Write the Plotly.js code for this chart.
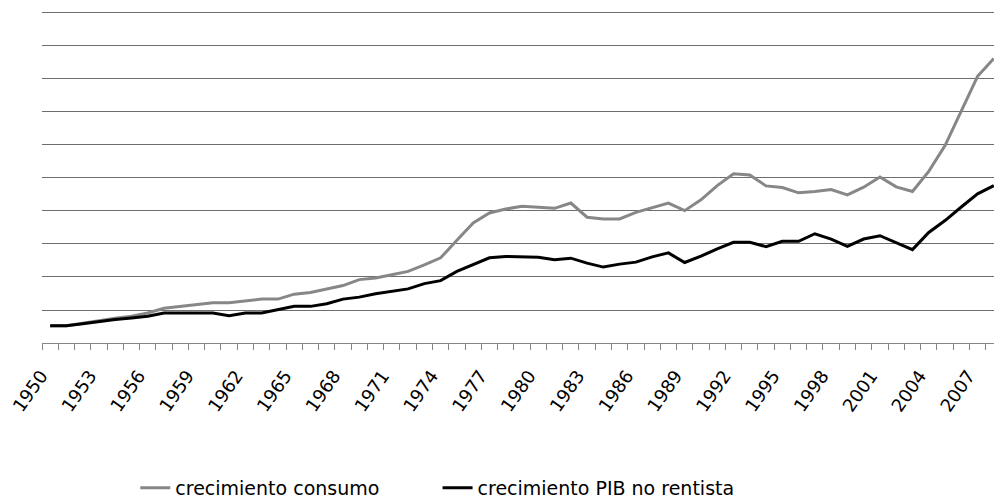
<!DOCTYPE html>
<html>
<head>
<meta charset="utf-8">
<script src="https://cdn.plot.ly/plotly-3.0.1.min.js"></script>
<style>
  html, body { margin: 0; padding: 0; background: #ffffff; }
  #chart { width: 994px; height: 499px; }
</style>
</head>
<body>
<div id="chart"></div>
<script>
// Years (categories)
const years = [1950,1951,1952,1953,1954,1955,1956,1957,1958,1959,
               1960,1961,1962,1963,1964,1965,1966,1967,1968,1969,
               1970,1971,1972,1973,1974,1975,1976,1977,1978,1979,
               1980,1981,1982,1983,1984,1985,1986,1987,1988,1989,
               1990,1991,1992,1993,1994,1995,1996,1997,1998,1999,
               2000,2001,2002,2003,2004,2005,2006,2007,2008];

// crecimiento consumo (gray)
const consumo = [0.52,0.52,0.60,0.68,0.75,0.81,0.91,1.05,1.11,1.17,
                 1.22,1.22,1.27,1.33,1.33,1.48,1.53,1.64,1.74,1.92,
                 1.97,2.07,2.17,2.37,2.58,3.11,3.64,3.94,4.06,4.14,
                 4.10,4.08,4.24,3.81,3.76,3.76,3.96,4.09,4.24,4.01,
                 4.34,4.77,5.13,5.09,4.76,4.71,4.55,4.59,4.65,4.49,
                 4.72,5.03,4.73,4.59,5.20,5.98,7.02,8.08,8.62];

// crecimiento PIB no rentista (black)
const pibNoRentista = [0.52,0.52,0.58,0.65,0.71,0.76,0.81,0.91,0.91,0.91,
                       0.91,0.83,0.91,0.91,1.01,1.11,1.11,1.19,1.33,1.39,
                       1.49,1.56,1.64,1.80,1.89,2.17,2.37,2.58,2.62,2.62,
                       2.60,2.52,2.57,2.42,2.30,2.39,2.45,2.61,2.73,2.44,
                       2.63,2.85,3.05,3.05,2.92,3.08,3.08,3.31,3.15,2.93,
                       3.15,3.25,3.03,2.83,3.35,3.71,4.12,4.52,4.77];

// Tick labels every 3 years
const tickYears = years.filter((y, i) => i % 3 === 0);
const tickLabels = tickYears.map(String);

const seriesNames = ['crecimiento consumo', 'crecimiento PIB no rentista'];

const FONT = 'DejaVu Sans, Liberation Sans, Arial, sans-serif';

const traces = [
  {
    x: years, y: consumo, type: 'scatter', mode: 'lines',
    name: seriesNames[0], legend: 'legend',
    line: { color: '#878787', width: 3 }
  },
  {
    x: years, y: pibNoRentista, type: 'scatter', mode: 'lines',
    name: seriesNames[1], legend: 'legend2',
    line: { color: '#000000', width: 3 }
  }
];

const legendCommon = {
  orientation: 'h', yref: 'container', yanchor: 'middle', y: 0.022,
  font: { family: FONT, size: 19, color: '#000000' },
  bgcolor: 'rgba(0,0,0,0)', borderwidth: 0
};

const layout = {
  width: 994, height: 499,
  margin: { l: 42, r: 0, t: 8, b: 156, pad: 0 },
  paper_bgcolor: '#ffffff', plot_bgcolor: '#ffffff',
  font: { family: FONT, size: 18, color: '#000000' },
  showlegend: true,
  xaxis: {
    range: [1949.5, 2008.01],
    tickmode: 'array', tickvals: tickYears, ticktext: tickLabels,
    tickangle: -55,
    ticks: '', showgrid: false, zeroline: false,
    showline: true, linecolor: '#868686', linewidth: 1,
    ticklabelstandoff: 14,
    ticklabelshift: -9,
    automargin: false,
    tickfont: { family: FONT, size: 18, color: '#000000' },
    minor: { tick0: 1949.5, dtick: 1, ticks: 'outside', ticklen: 6, tickcolor: '#868686', tickwidth: 1, showgrid: false }
  },
  yaxis: {
    range: [0, 10.15], dtick: 1, tick0: 0,
    showticklabels: false, ticks: '',
    showgrid: true, gridcolor: '#6e6e6e', gridwidth: 1,
    zeroline: false, showline: false, automargin: false
  },
  legend: Object.assign({}, legendCommon, { x: 0.098, xanchor: 'left' }),
  legend2: Object.assign({}, legendCommon, { x: 0.4155, xanchor: 'left' })
};

Plotly.newPlot('chart', traces, layout, { displayModeBar: false, staticPlot: true });
</script>
</body>
</html>
